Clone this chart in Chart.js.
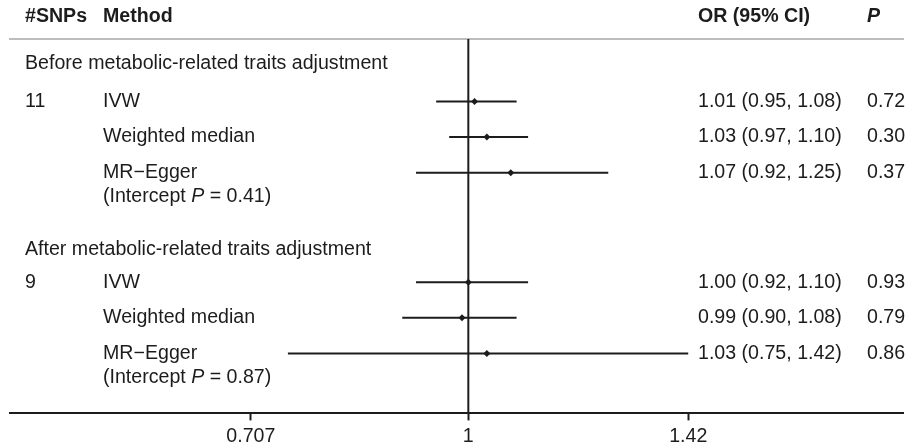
<!DOCTYPE html>
<html>
<head>
<meta charset="utf-8">
<script src="https://cdn.jsdelivr.net/npm/chart.js@4.4.1/dist/chart.umd.min.js"></script>
<style>
  html, body { margin: 0; padding: 0; background: #fff; overflow: hidden; }
  #wrap { width: 907px; height: 445px; }
</style>
</head>
<body>
<div id="wrap"><canvas id="forest"></canvas></div>
<script>
const groups = ['Before metabolic-related traits adjustment', 'After metabolic-related traits adjustment'];
const snps = ['11', '', '', '9', '', ''];
const methods = ['IVW', 'Weighted median', 'MR\u2212Egger', 'IVW', 'Weighted median', 'MR\u2212Egger'];
const interceptP = ['', '', '0.41', '', '', '0.87'];
const or = [1.01, 1.03, 1.07, 1.00, 0.99, 1.03];
const lower = [0.95, 0.97, 0.92, 0.92, 0.90, 0.75];
const upper = [1.08, 1.10, 1.25, 1.10, 1.08, 1.42];
const pValues = ['0.72', '0.30', '0.37', '0.93', '0.79', '0.86'];
const xTicks = [0.707, 1, 1.42];

// layout only: row positions in row units from the top of the plot
const rowPos = [1.75, 2.75, 3.75, 6.82, 7.82, 8.82];
const groupPos = [0.68, 5.9];
const yMax = 10.5;

const FONT = '"Liberation Sans", Arial, Helvetica, sans-serif';
const INK = '#1c1c1c';
const SIZE = 19.6;

var datasets = [];
for (let i = 0; i < or.length; i++) {
    datasets.push({
        data: [{x: lower[i], y: rowPos[i]}, {x: upper[i], y: rowPos[i]}],
        showLine: true,
        borderColor: INK,
        borderWidth: 2,
        pointRadius: 0
    });
}
// null line at OR = 1
datasets.push({
    data: [{x: 1, y: 0}, {x: 1, y: yMax}],
    showLine: true,
    borderColor: INK,
    borderWidth: 2,
    pointRadius: 0
});
datasets.push({
    data: or.map((v, i) => ({x: v, y: rowPos[i]})),
    showLine: false,
    pointStyle: 'rectRot',
    pointRadius: 3.5,
    pointBackgroundColor: INK,
    pointBorderColor: INK,
    pointBorderWidth: 0
});

const tablePlugin = {
    id: 'table',
    afterDraw(chart) {
        const ctx = chart.ctx;
        const y = chart.scales.y;
        const top = chart.chartArea.top;
        const reg = SIZE + 'px ' + FONT;
        ctx.save();
        ctx.fillStyle = INK;
        ctx.textBaseline = 'middle';
        ctx.textAlign = 'left';

        // header
        const hy = top - 22;
        ctx.font = 'bold ' + reg;
        ctx.fillText('#SNPs', 25, hy);
        ctx.fillText('Method', 103, hy);
        ctx.fillText('OR (95% CI)', 698, hy);
        ctx.font = 'italic bold ' + reg;
        ctx.fillText('P', 867, hy);

        ctx.font = reg;
        groups.forEach((g, k) => ctx.fillText(g, 25, y.getPixelForValue(groupPos[k])));

        for (let i = 0; i < methods.length; i++) {
            const py = y.getPixelForValue(rowPos[i]);
            ctx.font = reg;
            if (snps[i]) ctx.fillText(snps[i], 25, py);
            ctx.fillText(methods[i], 103, py);
            const ci = or[i].toFixed(2) + ' (' + lower[i].toFixed(2) + ', ' + upper[i].toFixed(2) + ')';
            ctx.fillText(ci, 698, py);
            ctx.fillText(pValues[i], 867, py);
            if (interceptP[i]) {
                const iy = py + 24;
                let x = 103;
                ctx.fillText('(Intercept ', x, iy);
                x += ctx.measureText('(Intercept ').width;
                ctx.font = 'italic ' + reg;
                ctx.fillText('P', x, iy);
                x += ctx.measureText('P').width;
                ctx.font = reg;
                ctx.fillText(' = ' + interceptP[i] + ')', x, iy);
            }
        }
        ctx.restore();
    }
};

new Chart(document.getElementById('forest'), {
    type: 'scatter',
    data: { datasets: datasets },
    options: {
        responsive: true,
        maintainAspectRatio: false,
        animation: false,
        layout: { padding: { left: 10, right: 0, top: 39, bottom: -7 } },
        plugins: { legend: { display: false }, tooltip: { enabled: false } },
        scales: {
            x: {
                type: 'logarithmic',
                position: 'bottom',
                min: 0.4815,
                max: 2.0,
                afterBuildTicks: axis => { axis.ticks = xTicks.map(v => ({value: v})); },
                border: { display: true, color: INK, width: 2 },
                grid: { display: true, drawOnChartArea: false, drawTicks: true, tickLength: 7, tickColor: INK, tickWidth: 2 },
                ticks: {
                    color: INK,
                    padding: 6,
                    maxRotation: 0,
                    autoSkip: false,
                    font: { family: FONT, size: SIZE, lineHeight: 1 },
                    callback: v => String(v)
                }
            },
            xTop: {
                type: 'logarithmic',
                position: 'top',
                min: 0.4815,
                max: 2.0,
                border: { display: true, color: '#bdbdbd', width: 2 },
                grid: { display: false, drawTicks: false },
                ticks: { display: false }
            },
            y: {
                type: 'linear',
                reverse: true,
                min: 0,
                max: yMax,
                display: false
            }
        }
    },
    plugins: [tablePlugin]
});
</script>
</body>
</html>
